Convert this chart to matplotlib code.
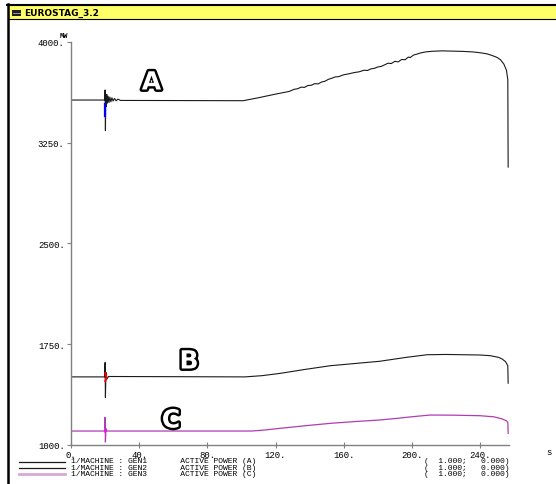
import matplotlib
matplotlib.use("Agg")
import matplotlib.pyplot as plt
import matplotlib.patheffects as pe
from matplotlib.patches import Rectangle
from matplotlib.lines import Line2D

# values (time in s, active power in MW)
t_gen1 = [0, 19.8, 20.0, 20.2, 20.4, 20.7, 21.0, 21.4, 21.8, 22.3, 22.8, 23.4, 24.0, 24.7,
          25.5, 26.5, 27.5, 29.0, 31.0, 101, 110, 120, 128, 131, 133, 135, 137, 139, 141,
          143, 145, 147, 149, 151, 153, 155, 157, 160, 163, 166, 169, 172, 174,
          176, 178, 180, 182, 184, 186, 188, 190, 192, 194, 196, 198, 199, 201, 203, 205,
          208, 212, 218, 224, 230, 236, 240, 244, 247, 250, 252, 254, 255.5, 256.3, 256.5]
p_gen1 = [3568, 3568, 3643, 3340, 3600, 3520, 3610, 3545, 3595, 3550, 3590, 3555, 3585, 3560,
          3580, 3562, 3575, 3565, 3565, 3563, 3585, 3612, 3632, 3648, 3652, 3664, 3662, 3676, 3678,
          3690, 3688, 3702, 3708, 3722, 3730, 3740, 3742, 3756, 3763, 3772, 3778, 3790, 3788,
          3800, 3804, 3814, 3818, 3830, 3842, 3840, 3856, 3852, 3870, 3868, 3888, 3884, 3903, 3910, 3918,
          3926, 3931, 3934, 3932, 3930, 3926, 3920, 3912, 3900, 3885, 3868, 3835, 3790, 3720, 3069]

t_gen2 = [0, 19.8, 20.0, 20.2, 20.5, 21.0, 22.0, 102, 112, 122.6, 137, 152, 166, 181, 197,
          209, 220, 230, 240, 246, 251, 253, 255, 256.3, 256.5]
p_gen2 = [1507, 1507, 1614, 1354, 1540, 1490, 1510, 1507, 1516, 1533, 1562, 1590, 1606, 1623, 1653,
          1672, 1674, 1672, 1670, 1665, 1652, 1640, 1620, 1590, 1460]

t_gen3 = [0, 19.8, 20.0, 20.2, 20.5, 21.0, 106, 114, 122.6, 137, 152, 166, 181, 191,
          200.6, 210.6, 225, 240, 248, 253, 255.5, 256.3, 256.5]
p_gen3 = [1104, 1104, 1206, 1022, 1120, 1104, 1104, 1112, 1124, 1143, 1161, 1174, 1186, 1198,
          1211, 1223, 1222, 1218, 1210, 1194, 1180, 1169, 1087]

y_ticks = [1000, 1750, 2500, 3250, 4000]
x_ticks = [0, 40, 80, 120, 160, 200, 240]
gens = ["GEN1", "GEN2", "GEN3"]
tags = ["A", "B", "C"]
trace_colors = ["#1a1a1a", "#1a1a1a", "#b03cb0"]
legend_colors = ["#1a1a1a", "#1a1a1a", "#d8a8d8"]

W, H = 556, 485
mono = "Liberation Mono"


def fx(x):
    return x / W


def fy(y):
    return 1 - y / H


fig = plt.figure(figsize=(W / 100, H / 100), dpi=100)

# window frame and yellow title bar
fig.patches.append(Rectangle((fx(8), fy(19.5)), 1 - fx(8), 13.5 / H, transform=fig.transFigure,
                             facecolor="#ffff66", edgecolor="none"))
fig.add_artist(Line2D([fx(7), 1], [fy(5.8), fy(5.8)], color="black", lw=1.5))
fig.add_artist(Line2D([fx(8), 1], [fy(20), fy(20)], color="black", lw=0.8))
fig.add_artist(Line2D([fx(8), fx(8)], [fy(5), 0], color="black", lw=1.8))
fig.patches.append(Rectangle((fx(12), fy(17)), 9 / W, 6 / H, transform=fig.transFigure,
                             facecolor="#202020", edgecolor="none"))
fig.add_artist(Line2D([fx(13), fx(20)], [fy(13.5), fy(13.5)], color="#c8c8c8", lw=0.5))
fig.text(fx(24), fy(13.5), "EUROSTAG_3.2", fontsize=6.5, fontweight="bold", va="center",
         ha="left", family="DejaVu Sans")

ax = fig.add_axes([fx(71), fy(446), (509 - 71) / W, (446 - 43) / H])
ax.plot(t_gen1, p_gen1, color=trace_colors[0], lw=0.8)
ax.plot(t_gen2, p_gen2, color=trace_colors[1], lw=0.8)
ax.plot(t_gen3, p_gen3, color=trace_colors[2], lw=0.9)
# coloured bits at the fault instant
ax.plot([20.0, 20.0], [3538, 3451], color="blue", lw=1.6)
ax.plot([20.1, 20.8, 20.1], [1535, 1505, 1475], color="red", lw=1.4)
ax.plot([20.1, 20.7, 20.1], [1125, 1110, 1098], color="#e020e0", lw=1.4)

ax.set_xlim(0, 257)
ax.set_ylim(1000, 4000)
for s in ["top", "right"]:
    ax.spines[s].set_visible(False)
for s in ["left", "bottom"]:
    ax.spines[s].set_color("#808080")
    ax.spines[s].set_linewidth(1.0)
ax.set_yticks(y_ticks)
ax.set_yticklabels([f"{v}." for v in y_ticks])
ax.set_xticks(x_ticks)
ax.set_xticklabels([f"{v}." for v in x_ticks])
ax.tick_params(axis="y", direction="out", length=3, width=0.8, color="#808080", pad=1.5,
               labelsize=6.5)
ax.tick_params(axis="x", direction="inout", length=5, width=0.8, color="#808080", pad=1,
               labelsize=6.5)
for lab in ax.get_xticklabels() + ax.get_yticklabels():
    lab.set_family(mono)

fig.text(fx(64), fy(37), "MW", fontsize=5, family=mono, ha="center", va="center", fontweight="bold")
fig.text(fx(549), fy(453), "s", fontsize=6.5, family=mono, ha="center", va="center")

# outlined curve labels
outline = [pe.withStroke(linewidth=3.5, foreground="black")]
for tag, (x, y) in zip(tags, [(151.5, 83.5), (189, 362.5), (171, 421.5)]):
    fig.text(fx(x), fy(y), tag, fontsize=18, fontweight="bold", color="white", ha="center",
             va="center", family="DejaVu Sans", path_effects=outline)

# legend block under the plot
for i, (gen, tag) in enumerate(zip(gens, tags)):
    ly = 463 + i * 6
    lw = 2.0 if i == 2 else 0.9
    fig.add_artist(Line2D([fx(19), fx(65)], [fy(ly), fy(ly)], color=legend_colors[i], lw=lw))
    ty = 462 + i * 6.5
    fig.text(fx(71), fy(ty), f"1/MACHINE : {gen}       ACTIVE POWER ({tag})", fontsize=5.8,
             family=mono, ha="left", va="center")
    fig.text(fx(509), fy(ty), "(  1.000;   0.000)", fontsize=5.8, family=mono, ha="right",
             va="center")

fig.savefig("out.png", dpi=100)
